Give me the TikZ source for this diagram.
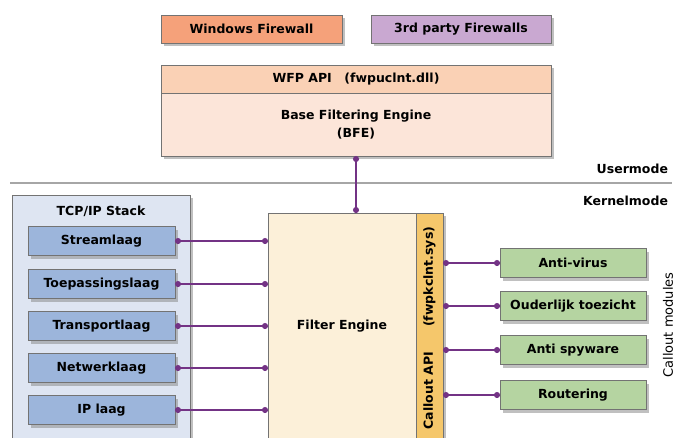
\documentclass[tikz,border=0pt]{standalone}
\usepackage{fontspec}
\setmainfont{DejaVu Sans}
\usetikzlibrary{shadows,arrows.meta}

\begin{document}
\begin{tikzpicture}[x=1pt,y=-1pt,
  txt/.style={inner sep=0pt,outer sep=0pt,font=\bfseries\fontsize{12.5}{18}\selectfont},
  box/.style={txt,draw=borderColor,line width=0.6pt,drop shadow={shadow xshift=3pt,shadow yshift=-3pt,fill=black!45,opacity=0.55}},
  layer/.style={box,fill=layerColor,minimum width=147pt,minimum height=29pt},
  module/.style={box,fill=moduleColor,minimum width=146pt,minimum height=29pt},
  link/.style={draw=linkColor,line width=1.4pt,{Circle[length=6pt,width=6pt]}-{Circle[length=6pt,width=6pt]}}]
\definecolor[named]{borderColor}{rgb}{0.45,0.45,0.45}
\definecolor[named]{winColor}{rgb}{0.96,0.63,0.48}
\definecolor[named]{thirdColor}{rgb}{0.79,0.66,0.82}
\definecolor[named]{wfpColor}{rgb}{0.98,0.82,0.71}
\definecolor[named]{bfeColor}{rgb}{0.99,0.90,0.85}
\definecolor[named]{stackColor}{rgb}{0.87,0.90,0.95}
\definecolor[named]{layerColor}{rgb}{0.61,0.71,0.86}
\definecolor[named]{engineColor}{rgb}{0.99,0.94,0.85}
\definecolor[named]{calloutColor}{rgb}{0.96,0.78,0.42}
\definecolor[named]{moduleColor}{rgb}{0.71,0.83,0.63}
\definecolor[named]{linkColor}{rgb}{0.45,0.20,0.52}
\definecolor[named]{sepColor}{rgb}{0.65,0.65,0.65}
\useasboundingbox (0,0) rectangle (680,437);
\clip (0,0) rectangle (680,437);

\node[box,fill=winColor,minimum width=181pt,minimum height=28pt] (winfw) at (251.5,29) {Windows Firewall};
\node[box,fill=thirdColor,minimum width=180pt,minimum height=28pt] (thirdfw) at (461,29) {3rd party Firewalls};

\node[box,fill=wfpColor,minimum width=390pt,minimum height=28pt] (wfp) at (356,79) {WFP API\quad(fwpuclnt.dll)};
\node[box,fill=bfeColor,minimum width=390pt,minimum height=63pt,align=center] (bfe) at (356,124.5) {Base Filtering Engine\\(BFE)};

\draw[draw=sepColor,line width=1.2pt] (10,183) -- (672,183);
\node[txt,anchor=east] (usermode) at (668,169) {Usermode};
\node[txt,anchor=east] (kernelmode) at (668,201) {Kernelmode};

\node[box,fill=stackColor,minimum width=178pt,minimum height=250pt,anchor=north west] (stack) at (12,195) {};
\node[txt] (stacktitle) at (101,211) {TCP/IP Stack};
\node[layer] (stream) at (101.5,241) {Streamlaag};
\node[layer] (appl) at (101.5,284) {Toepassingslaag};
\node[layer] (transport) at (101.5,326) {Transportlaag};
\node[layer] (network) at (101.5,368) {Netwerklaag};
\node[layer] (ip) at (101.5,410) {IP laag};

\node[box,fill=engineColor,minimum width=148pt,minimum height=227pt,anchor=north west] (engine) at (268,213) {Filter Engine};
\node[box,fill=calloutColor,minimum width=27pt,minimum height=227pt,anchor=north west] (callout) at (416,213) {};
\node[txt,rotate=90] (calloutapi) at (429.5,328) {Callout API\qquad(fwpkclnt.sys)};

\node[module] (antivirus) at (573,263) {Anti-virus};
\node[module] (parental) at (573,306) {Ouderlijk toezicht};
\node[module] (antispy) at (573,350) {Anti spyware};
\node[module] (routing) at (573,395) {Routering};
\node[inner sep=0pt,font=\fontsize{13}{15}\selectfont,rotate=90] (modules) at (668,325) {Callout modules};

\path[link] (bfe.south) -- (bfe.south |- engine.north);

\path[link] (stream.east) -- (stream.east -| engine.west);
\path[link] (appl.east) -- (appl.east -| engine.west);
\path[link] (transport.east) -- (transport.east -| engine.west);
\path[link] (network.east) -- (network.east -| engine.west);
\path[link] (ip.east) -- (ip.east -| engine.west);

\path[link] (antivirus.west -| callout.east) -- (antivirus.west);
\path[link] (parental.west -| callout.east) -- (parental.west);
\path[link] (antispy.west -| callout.east) -- (antispy.west);
\path[link] (routing.west -| callout.east) -- (routing.west);
\end{tikzpicture}
\end{document}
